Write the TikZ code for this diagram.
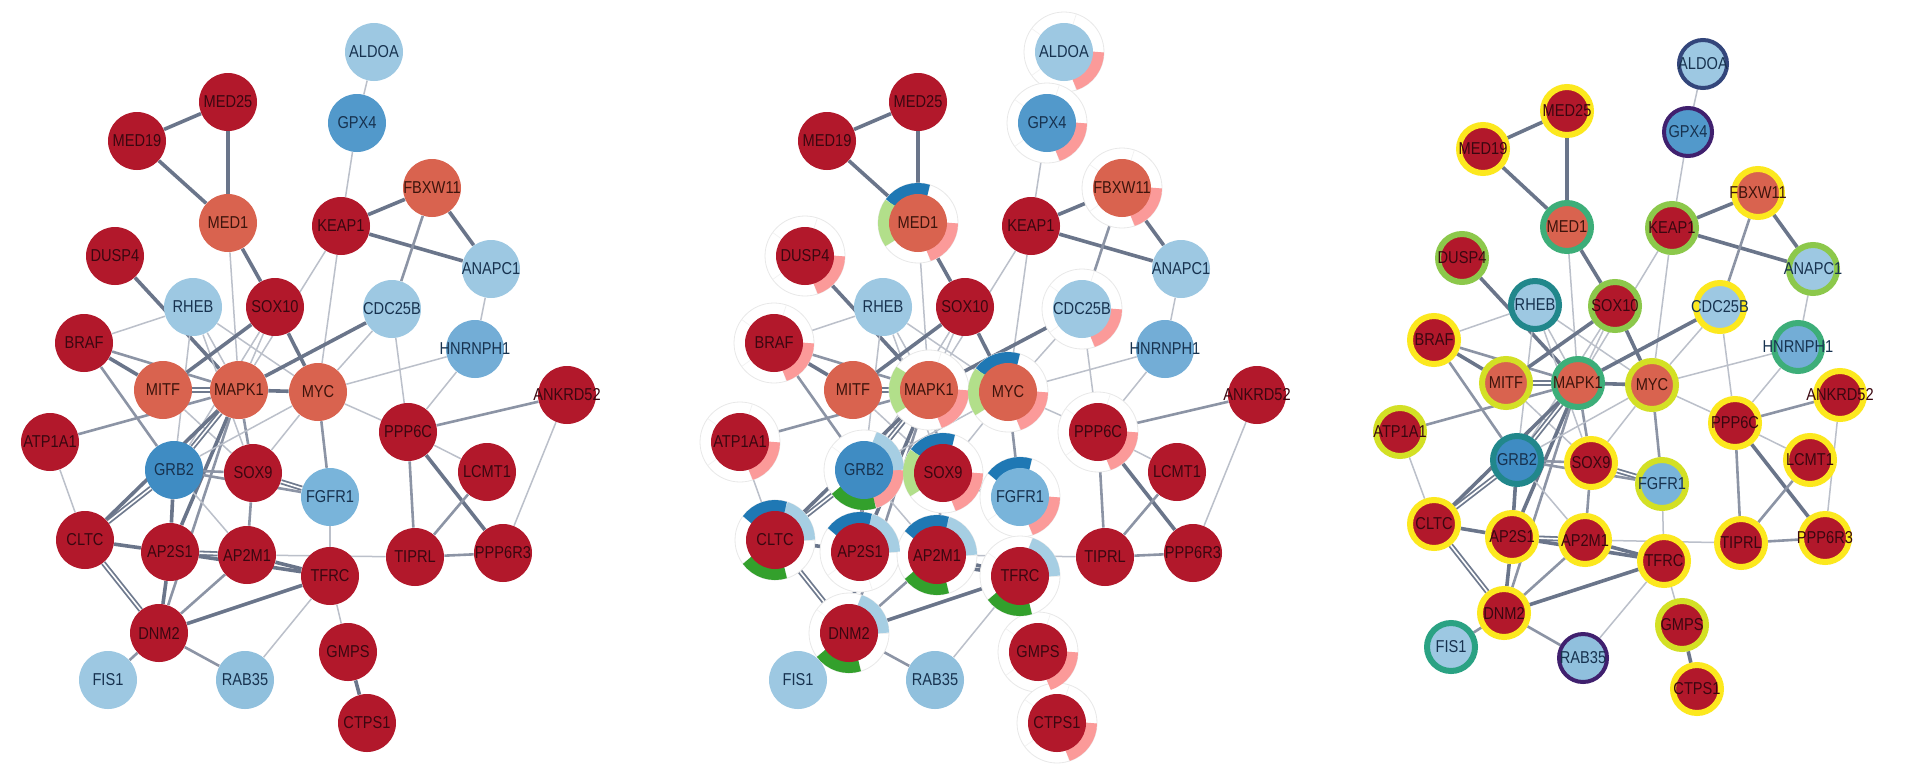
\documentclass[tikz,border=0pt]{standalone}
\usepackage{fontspec}
\setmainfont{Liberation Sans}
\newfontfamily\labfont{Liberation Sans}[FakeStretch=0.85]
\usetikzlibrary{calc}
\pgfdeclarelayer{edgelayer}
\pgfdeclarelayer{ringlayer}
\pgfsetlayers{edgelayer,ringlayer,main}
\definecolor{nred}{HTML}{B2182B}
\definecolor{nsal}{HTML}{D9634F}
\definecolor{nlb}{HTML}{9DC8E2}
\definecolor{nrab}{HTML}{90C0DD}
\definecolor{nhn}{HTML}{73ADD6}
\definecolor{nfg}{HTML}{79B4DA}
\definecolor{ngpx}{HTML}{5299CB}
\definecolor{ngrb}{HTML}{3F8CC3}
\definecolor{tred}{HTML}{3A0710}
\definecolor{tsal}{HTML}{3D140C}
\definecolor{tblu}{HTML}{17324F}
\definecolor{edgec}{HTML}{56627A}
\definecolor{apink}{HTML}{FB9A99}
\definecolor{alb}{HTML}{A6CEE3}
\definecolor{adb}{HTML}{1F78B4}
\definecolor{alg}{HTML}{B2DF8A}
\definecolor{adg}{HTML}{33A02C}
\definecolor{ryel}{HTML}{FCE81E}
\definecolor{ryelg}{HTML}{D3E025}
\definecolor{rlgc}{HTML}{8CC84B}
\definecolor{rgtc}{HTML}{3DAE79}
\definecolor{rtealc}{HTML}{21878B}
\definecolor{rfisc}{HTML}{2AA283}
\definecolor{rnavyc}{HTML}{33467B}
\definecolor{rpurpc}{HTML}{40206E}
\def\nodelist{ALDOA/374/52/clb, GPX4/357/123/cgpx, MED25/228/102/cred, MED19/137/141/cred,
MED1/228/223/csal, KEAP1/341/226/cred, FBXW11/432/188/csal, ANAPC1/491/269/clb,
DUSP4/115/256/cred, RHEB/193/307/clb, SOX10/275/307/cred, CDC25B/392/309/clb,
HNRNPH1/475/349/chn, BRAF/84/343/cred, MITF/163/390/csal, MAPK1/239/390/csal,
MYC/318/392/csal, ANKRD52/567/395/cred, ATP1A1/50/442/cred, GRB2/174/470/cgrb,
SOX9/253/473/cred, FGFR1/330/497/cfg, PPP6C/408/432/cred, LCMT1/487/472/cred,
CLTC/85/540/cred, AP2S1/170/552/cred, AP2M1/247/555/cred, TFRC/330/576/cred,
TIPRL/415/557/cred, PPP6R3/503/553/cred, DNM2/159/633/cred, FIS1/108/680/clb,
RAB35/245/680/crab, GMPS/348/652/cred, CTPS1/367/723/cred}
\def\nodelistc{ALDOA/1703/64/clb/rnavy, GPX4/1688/132/cgpx/rpurp, MED25/1567/111/cred/ry,
MED19/1483/149/cred/ry, MED1/1567/227/csal/rgt, KEAP1/1672/228/cred/rlg,
FBXW11/1758/193/csal/ry, ANAPC1/1813/269/clb/rlg, DUSP4/1462/258/cred/rlg,
RHEB/1535/305/clb/rteal, SOX10/1615/306/cred/rlg, CDC25B/1720/307/clb/ry,
HNRNPH1/1798/347/chn/rgt, BRAF/1434/340/cred/ry, MITF/1506/383/csal/ryg,
MAPK1/1578/383/csal/rgt, MYC/1652/385/csal/ryg, ANKRD52/1840/395/cred/ry,
ATP1A1/1400/432/cred/ryg, GRB2/1517/460/cgrb/rteal, SOX9/1591/463/cred/ry,
FGFR1/1662/484/cfg/ryg, PPP6C/1735/423/cred/ry, LCMT1/1810/460/cred/ry,
CLTC/1434/524/cred/ry, AP2S1/1512/537/cred/ry, AP2M1/1585/540/cred/ry,
TFRC/1664/561/cred/ry, TIPRL/1741/543/cred/ry, PPP6R3/1825/538/cred/ry,
DNM2/1504/613/cred/ry, FIS1/1451/647/clb/rfis, RAB35/1583/658/crab/rpurp,
GMPS/1682/625/cred/ryg, CTPS1/1697/689/cred/ry}
\def\edgelist{ALDOA/GPX4/et, GPX4/KEAP1/et, MED25/MED19/eT, MED25/MED1/eT, MED19/MED1/eT,
MED1/SOX10/eT, MED1/MAPK1/et, KEAP1/FBXW11/eT, KEAP1/ANAPC1/eT, FBXW11/ANAPC1/eT,
FBXW11/CDC25B/em, KEAP1/MAPK1/et, KEAP1/MYC/et, ANAPC1/HNRNPH1/et, DUSP4/MAPK1/eT,
BRAF/RHEB/et, BRAF/MITF/eT, BRAF/MAPK1/em, BRAF/GRB2/em, RHEB/MAPK1/et, RHEB/MYC/et,
RHEB/GRB2/et, RHEB/SOX9/et, SOX10/MITF/eT, SOX10/MYC/eT, SOX10/MAPK1/et, SOX10/GRB2/et,
CDC25B/MAPK1/eT, CDC25B/MYC/et, CDC25B/PPP6C/et, HNRNPH1/MYC/et, HNRNPH1/PPP6C/et,
MITF/MAPK1/eD, MAPK1/MYC/eT, MITF/SOX9/et, ATP1A1/MAPK1/em, ATP1A1/CLTC/et,
MAPK1/GRB2/eD, MAPK1/CLTC/eT, MAPK1/AP2S1/eT, MAPK1/SOX9/em, MAPK1/DNM2/em,
MYC/SOX9/et, MYC/GRB2/et, MYC/FGFR1/em, MYC/PPP6C/et, PPP6C/ANKRD52/em, PPP6C/LCMT1/et,
PPP6C/TIPRL/em, PPP6C/PPP6R3/eT, LCMT1/TIPRL/em, ANKRD52/PPP6R3/et, TIPRL/PPP6R3/em,
AP2M1/TIPRL/et, FGFR1/TFRC/et, SOX9/FGFR1/eD, GRB2/SOX9/em, GRB2/FGFR1/em,
SOX9/AP2M1/em, GRB2/AP2S1/eT, GRB2/CLTC/eD, GRB2/AP2M1/et, CLTC/AP2S1/eT,
AP2S1/AP2M1/eD, AP2S1/TFRC/eT, AP2M1/TFRC/eT, CLTC/DNM2/eD, AP2S1/DNM2/eT,
AP2M1/DNM2/em, TFRC/DNM2/eT, DNM2/FIS1/em, DNM2/RAB35/em, TFRC/RAB35/et,
TFRC/GMPS/et, GMPS/CTPS1/eT}
\begin{document}
\begin{tikzpicture}[x=0.5pt,y=-0.5pt,
  lab/.style={font=\labfont\fontsize{8.6}{8.6}\selectfont},
  gn/.style={circle,minimum size=29pt,inner sep=0pt,lab},
  gn3/.style={circle,minimum size=24pt,inner sep=0pt,line width=3pt,lab},
  cred/.style={fill=nred,text=tred},
  csal/.style={fill=nsal,text=tsal},
  clb/.style={fill=nlb,text=tblu},
  crab/.style={fill=nrab,text=tblu},
  chn/.style={fill=nhn,text=tblu},
  cfg/.style={fill=nfg,text=tblu},
  cgpx/.style={fill=ngpx,text=tblu},
  cgrb/.style={fill=ngrb,text=tblu},
  ry/.style={draw=ryel},
  ryg/.style={draw=ryelg},
  rlg/.style={draw=rlgc},
  rgt/.style={draw=rgtc},
  rteal/.style={draw=rtealc},
  rfis/.style={draw=rfisc},
  rnavy/.style={draw=rnavyc,line width=2pt},
  rpurp/.style={draw=rpurpc,line width=2pt},
  et/.style={draw=edgec!40,line width=0.75pt},
  em/.style={draw=edgec!68,line width=1.3pt},
  eT/.style={draw=edgec!88,line width=1.8pt},
  eD/.style={draw=edgec!85,line width=0.9pt,double=white,double distance=0.8pt},
  ringbg/.style={fill=white,draw=gray!18,line width=0.4pt},
  arcseg/.style={line width=6pt}]
\useasboundingbox (0,0) rectangle (1920,782);
% nodes of the three panels
\foreach \n/\x/\y/\s in \nodelist {
  \node[gn,\s] (a\n) at (\x,\y) {\makebox[0pt]{\n}};
  \node[gn,\s] (b\n) at (\x+690,\y) {\makebox[0pt]{\n}};
}
\foreach \n/\x/\y/\s/\r in \nodelistc {
  \node[gn3,\s,\r] (c\n) at (\x,\y) {\makebox[0pt]{\n}};
}
% edges
\begin{pgfonlayer}{edgelayer}
\fill[white] (0,0) rectangle (1920,782);
\foreach \u/\v/\w in \edgelist {
  \draw[\w] (a\u) -- (a\v);
  \draw[\w] (b\u) -- (b\v);
  \draw[\w] (c\u) -- (c\v);
}
\end{pgfonlayer}
% donut rings of the middle panel
\begin{pgfonlayer}{ringlayer}
\foreach \n in {ALDOA,GPX4,FBXW11,MED1,DUSP4,BRAF,CDC25B,MAPK1,MYC,ATP1A1,GRB2,SOX9,
  FGFR1,PPP6C,GMPS,CTPS1,CLTC,AP2S1,AP2M1,TFRC,DNM2} {
  \path[ringbg] (b\n) circle[radius=20pt];
  \foreach \a in {0,72,144,216,288}
    \draw[gray!12,line width=0.3pt] ($(b\n)+(\a:14.5pt)$) -- ($(b\n)+(\a:20pt)$);
}
\foreach \n/\a/\c in {ALDOA/288/apink, GPX4/288/apink, FBXW11/288/apink, MED1/288/apink,
  DUSP4/288/apink, BRAF/288/apink, CDC25B/288/apink, MAPK1/288/apink, MYC/288/apink,
  ATP1A1/288/apink, GRB2/288/apink, SOX9/288/apink, FGFR1/288/apink, PPP6C/288/apink,
  GMPS/288/apink, CTPS1/288/apink,
  GRB2/0/alb, CLTC/0/alb, AP2S1/0/alb, AP2M1/0/alb, TFRC/0/alb, DNM2/0/alb,
  MED1/72/adb, MYC/72/adb, SOX9/72/adb, FGFR1/72/adb, CLTC/72/adb, AP2S1/72/adb, AP2M1/72/adb,
  MED1/144/alg, MAPK1/144/alg, MYC/144/alg, SOX9/144/alg,
  GRB2/216/adg, CLTC/216/adg, AP2M1/216/adg, TFRC/216/adg, DNM2/216/adg} {
  \draw[arcseg,draw=\c] ($(b\n)+(\a:17pt)$) arc[start angle=\a, delta angle=72, radius=17pt];
}
\end{pgfonlayer}
\end{tikzpicture}
\end{document}
